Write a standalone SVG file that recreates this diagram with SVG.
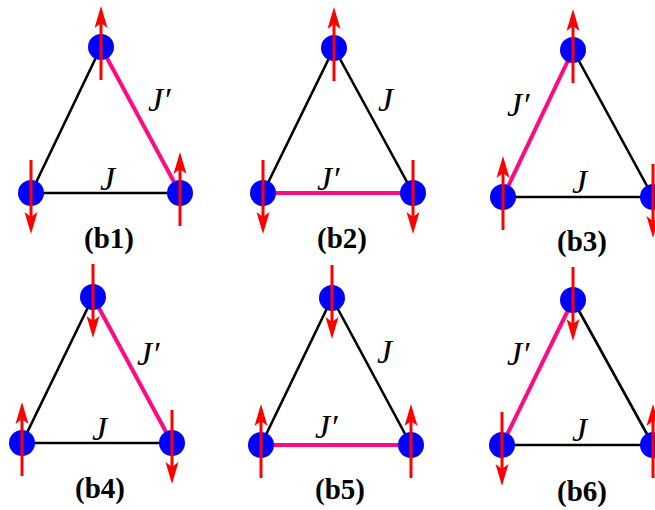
<svg xmlns="http://www.w3.org/2000/svg" xmlns:xlink="http://www.w3.org/1999/xlink" width="655" height="510" viewBox="0 0 655 510">
<style>
.j{stroke:#000;stroke-width:2.6;fill:none}
.jp{stroke:#ff0a80;stroke-width:4;fill:none}
.site{fill:#0000ff}
.spin{stroke:#ff0000;stroke-width:3;fill:none}
.head{fill:#ff0000}
.lab{font-family:'Liberation Serif','Times New Roman',Times,serif;font-style:italic;font-size:34px;fill:#000}
.cap{font-family:'Liberation Serif','Times New Roman',Times,serif;font-weight:700;font-size:29px;text-anchor:middle;fill:#000}
</style>
<defs>
<g id="up"><line class="spin" x1="0" y1="33" x2="0" y2="-24"/><path class="head" d="M0,-41 L6.5,-19 L0,-24 L-6.5,-19 Z"/></g>
</defs>
<rect width="655" height="510" fill="#fff"/>

<g id="connectors">
<line class="j" x1="101" y1="47" x2="31" y2="193"/>
<line class="jp" x1="101" y1="47" x2="180" y2="193"/>
<line class="j" x1="31" y1="193" x2="180" y2="193"/>
<line class="j" x1="334" y1="48" x2="263" y2="193"/>
<line class="j" x1="334" y1="48" x2="413" y2="193"/>
<line class="jp" x1="263" y1="193" x2="413" y2="193"/>
<line class="jp" x1="573" y1="50" x2="503" y2="197"/>
<line class="j" x1="573" y1="50" x2="653" y2="197"/>
<line class="j" x1="503" y1="197" x2="653" y2="197"/>
<line class="j" x1="93" y1="297" x2="22" y2="443"/>
<line class="jp" x1="93" y1="297" x2="172" y2="443"/>
<line class="j" x1="22" y1="443" x2="172" y2="443"/>
<line class="j" x1="332" y1="298" x2="261" y2="445"/>
<line class="j" x1="332" y1="298" x2="411" y2="445"/>
<line class="jp" x1="261" y1="445" x2="411" y2="445"/>
<line class="jp" x1="573" y1="300" x2="502" y2="445"/>
<line class="j" x1="573" y1="300" x2="653" y2="445"/>
<line class="j" x1="502" y1="445" x2="653" y2="445"/>
</g>

<g id="bond-labels">
<text class="lab" x="148" y="111">J′</text>
<text class="lab" x="100" y="190">J</text>
<text class="lab" x="378" y="111">J</text>
<text class="lab" x="317" y="190">J′</text>
<text class="lab" x="507" y="116">J′</text>
<text class="lab" x="572" y="193">J</text>
<text class="lab" x="137" y="365">J′</text>
<text class="lab" x="92" y="440">J</text>
<text class="lab" x="377" y="363">J</text>
<text class="lab" x="315" y="438">J′</text>
<text class="lab" x="507" y="365">J′</text>
<text class="lab" x="572" y="441">J</text>
</g>

<g id="b1-top"><circle class="site" cx="101" cy="47" r="13"/><use xlink:href="#up" href="#up" transform="translate(101,47)"/></g>
<g id="b1-left"><circle class="site" cx="31" cy="193" r="13"/><use xlink:href="#up" href="#up" transform="translate(31,193) rotate(180)"/></g>
<g id="b1-right"><circle class="site" cx="180" cy="193" r="13"/><use xlink:href="#up" href="#up" transform="translate(180,193)"/></g>
<g id="b2-top"><circle class="site" cx="334" cy="48" r="13"/><use xlink:href="#up" href="#up" transform="translate(334,48)"/></g>
<g id="b2-left"><circle class="site" cx="263" cy="193" r="13"/><use xlink:href="#up" href="#up" transform="translate(263,193) rotate(180)"/></g>
<g id="b2-right"><circle class="site" cx="413" cy="193" r="13"/><use xlink:href="#up" href="#up" transform="translate(413,193) rotate(180)"/></g>
<g id="b3-top"><circle class="site" cx="573" cy="50" r="13"/><use xlink:href="#up" href="#up" transform="translate(573,50)"/></g>
<g id="b3-left"><circle class="site" cx="503" cy="197" r="13"/><use xlink:href="#up" href="#up" transform="translate(503,197)"/></g>
<g id="b3-right"><circle class="site" cx="653" cy="197" r="13"/><use xlink:href="#up" href="#up" transform="translate(653,197) rotate(180)"/></g>
<g id="b4-top"><circle class="site" cx="93" cy="297" r="13"/><use xlink:href="#up" href="#up" transform="translate(93,297) rotate(180)"/></g>
<g id="b4-left"><circle class="site" cx="22" cy="443" r="13"/><use xlink:href="#up" href="#up" transform="translate(22,443)"/></g>
<g id="b4-right"><circle class="site" cx="172" cy="443" r="13"/><use xlink:href="#up" href="#up" transform="translate(172,443) rotate(180)"/></g>
<g id="b5-top"><circle class="site" cx="332" cy="298" r="13"/><use xlink:href="#up" href="#up" transform="translate(332,298) rotate(180)"/></g>
<g id="b5-left"><circle class="site" cx="261" cy="445" r="13"/><use xlink:href="#up" href="#up" transform="translate(261,445)"/></g>
<g id="b5-right"><circle class="site" cx="411" cy="445" r="13"/><use xlink:href="#up" href="#up" transform="translate(411,445)"/></g>
<g id="b6-top"><circle class="site" cx="573" cy="300" r="13"/><use xlink:href="#up" href="#up" transform="translate(573,300) rotate(180)"/></g>
<g id="b6-left"><circle class="site" cx="502" cy="445" r="13"/><use xlink:href="#up" href="#up" transform="translate(502,445) rotate(180)"/></g>
<g id="b6-right"><circle class="site" cx="653" cy="445" r="13"/><use xlink:href="#up" href="#up" transform="translate(653,445)"/></g>

<g id="captions">
<text class="cap" x="109" y="248">(b1)</text>
<text class="cap" x="342" y="248">(b2)</text>
<text class="cap" x="582" y="251">(b3)</text>
<text class="cap" x="100" y="498">(b4)</text>
<text class="cap" x="340" y="499">(b5)</text>
<text class="cap" x="582" y="501">(b6)</text>
</g>
</svg>
